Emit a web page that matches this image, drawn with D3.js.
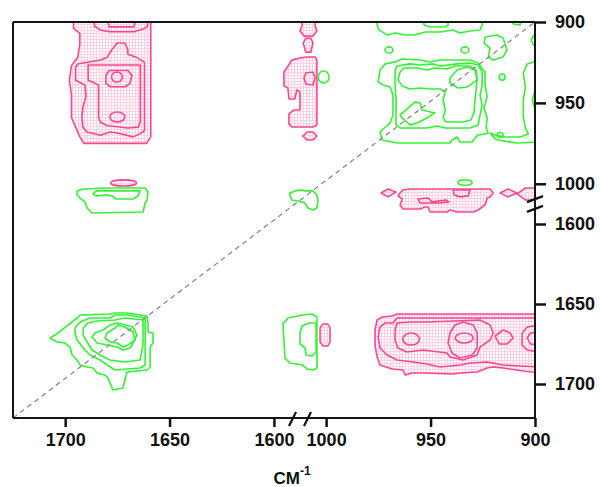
<!DOCTYPE html>
<html>
<head>
<meta charset="utf-8">
<script src="https://cdn.jsdelivr.net/npm/d3@7"></script>
<style>
    body { margin: 0; background: #fff; }
    text { font-family: "Liberation Sans", Arial, sans-serif; font-weight: bold; fill: #111; }
</style>
</head>
<body>
<svg id="chart" width="600" height="487"></svg>
<script>
/**
 * Synchronous 2D map, broken axes (1725-1587.5 | 1012.5-900 cm-1).
 * Every contour is a list of [x wavenumber, y wavenumber] points.
 */
var xTicks = [1700, 1650, 1600, 1000, 950, 900];
var yTicks = [900, 950, 1000, 1600, 1650, 1700];
var xDomain = [1725, 1587.5, 1012.5, 900];
var yDomain = [900, 1012.5, 1587.5, 1721.25];

// ---- pink (negative) contours ----
var pinkTL1 = [[1696,896],[1696,900],[1696,904],[1693,907],[1693,914],[1694,922],[1697,927],[1698,936],[1697,945],[1697,954],[1697,959],[1695,965],[1693,971],[1691,975],[1661,975],[1659,971],[1659,896]];
var pinkTL2 = [[1686,896],[1686,902.5],[1683,905],[1678.5,906],[1667,906],[1662,904],[1660.5,902.5],[1660.5,896]];
var pinkTL3 = [[1680,896],[1679,903],[1667,903],[1666,896]];
var pinkTL4 = [[1695,928],[1694,926],[1690,925],[1683,923.5],[1680,922],[1677.6,917],[1675,913],[1671.4,913],[1670,917],[1670,920],[1665.6,922],[1662,925],[1662,967],[1664,969],[1667.5,971],[1675,968.6],[1678.5,968],[1683,970],[1689.6,968],[1691.5,965],[1692,959],[1691.5,952.5],[1690,946],[1690.5,939],[1692,938],[1695,936]];
var pinkTL5 = [[1689,926.6],[1689,936],[1686,937.7],[1684,939],[1684,959],[1683,962],[1680,964],[1670,965.5],[1665,965],[1664,962],[1664,926.6]];
var pinkTL6 = [[1680.5,933],[1679,930],[1670,930],[1668,933],[1669,938],[1671.4,940],[1678.5,940],[1680.5,938]];
var pinkTM1 = [[1012,897.5],[1011.5,902],[1012.5,905.6],[1010.6,908.7],[1006.3,908.7],[1004.4,905.6],[1005.3,902],[1004.8,897.5]];
var pinkTM2 = [[1011,913],[1009.7,910],[1007.3,910],[1006.3,913],[1007.3,918.7],[1009.7,918.7]];
var pinkTM3 = [[1593.8,928.4],[1591.4,923.5],[1012.5,922.2],[1009.1,921.6],[1005.3,921.6],[1004.4,923.5],[1004.4,963.7],[1006.3,964.9],[1591.4,964.9],[1592.8,963],[1592.8,956.8],[1590.4,954.4],[1587.5,954.4],[1587.5,943.3],[1589,942],[1590,947.6],[1592.8,947.6],[1593.3,940.8],[1595.2,939.5],[1595.2,930.9]];
var pinkTM4 = [[1006.3,930.9],[1009.7,931.5],[1010.6,934.6],[1009.7,938.3],[1006.3,938.9],[1005.3,934.6]];
var pinkTM5 = [[1011.1,970.5],[1009.1,968],[1006.3,968],[1004.4,970.5],[1006.3,972.9],[1009.1,972.9]];
var pinkMR1 = [[964.6,1005.7],[963.2,1003.8],[959.8,1003.2],[921.5,1003.2],[920,1005.7],[921.5,1008.1],[922.9,1008.8],[923.9,1588.1],[927.2,1591.25],[929.6,1592.5],[937.3,1592.5],[940.7,1591.25],[942.1,1592.5],[950.2,1592.5],[951.2,1589.4],[952.6,1589.4],[955,1590.6],[963.2,1590.6],[964.6,1588.1],[963.6,1009.4],[965.6,1007.5]];
var pinkMR2 = [[956,1009.4],[951.2,1008.8],[949.3,1011.2],[942.6,1010],[941.2,1011.2],[945.4,1011.9],[951.2,1011.9],[955,1011.9]];
var pinkMR3 = [[939.2,1003.8],[938.7,1006.9],[935.9,1008.1],[932,1007.5],[931.1,1003.8]];
var pinkMR4 = [[973.7,1005.7],[970.3,1003.2],[966.5,1005.1],[970.3,1008.1]];
var pinkMR5 = [[916.7,1005.7],[912.9,1003.2],[908.6,1005.7],[912.9,1008.1]];
var pinkMR6 = [[908.6,1006.3],[904.6,1002.6],[897.5,1002.6],[897.5,1010],[904.6,1010]];
var pinkBM1 = [[1002.9,1665],[1001.5,1662.5],[999.1,1662.5],[998.1,1665],[998.1,1673.75],[999.1,1676.25],[1001.5,1676.25],[1002.9,1673.75]];
var pinkBR1 = [[975.6,1660],[973.2,1658.1],[968.4,1657.5],[966,1656.25],[897.5,1656.25],[897.5,1692.5],[901.3,1692.5],[905.6,1691.9],[908.6,1691.25],[915.3,1690],[920,1689.4],[922.9,1690],[927.7,1692.5],[935.9,1693.1],[939.2,1693.75],[953.6,1693.1],[958.8,1693.1],[962.2,1694.4],[963.2,1691.25],[968.4,1690.6],[974.2,1688.1],[975.6,1683.1],[976.6,1675.6],[976.6,1666.25]];
var pinkBR2 = [[974.2,1664.4],[971.8,1661.9],[968,1661.9],[966,1658.75],[897.5,1658.75],[897.5,1689.4],[907.1,1688.75],[915.3,1688.1],[922.9,1686.25],[931.1,1686.9],[935.9,1688.1],[945.4,1689.4],[951.7,1687.5],[958.4,1686.25],[966,1685],[970.8,1681.9],[974.2,1677.5],[975.1,1670.6]];
var pinkBR3 = [[966,1661.9],[959.8,1661.25],[951.7,1661.25],[939.2,1660.6],[926.3,1660],[921.5,1663.1],[920,1668.1],[921.5,1672.5],[926.3,1676.9],[927.7,1681.9],[934.4,1685],[940.7,1683.1],[942.1,1680.6],[953.6,1678.75],[961.3,1680],[965.6,1677.5],[967,1672.5],[967,1666.25]];
var pinkBR4 = [[940.7,1668.1],[938.3,1663.1],[934.4,1661.25],[929.6,1663.1],[927.7,1668.1],[927.7,1677.5],[930.1,1681.9],[935.9,1683.75],[939.7,1680.6],[941.6,1674.4]];
var pinkBR5 = [[919.1,1670],[915.3,1666.25],[911.9,1668.1],[910.5,1671.25],[913.4,1675],[917.2,1675]];
var pinkBR6 = [[897.5,1663.1],[903.7,1664.4],[906.2,1668.1],[906.2,1675.6],[903.7,1678.75],[897.5,1680]];
var pinkBR7 = [[897.5,1667.5],[902.2,1668.1],[903.7,1671.25],[902.2,1675],[897.5,1675.6]];
// small closed rings: [x, y, half width, half height]
var pinkSpots = [[1675.2,934,2.6,3.1],[1675,958.7,3.6,3.1],[1672,999.5,6.2,1.9],[933.9,1671.25,4.3,3.1],[959.3,1671.9,4,3.75]];

// ---- green (positive) contours ----
var greenTR1 = [[975.6,895.7],[975.6,901.9],[974.7,904.9],[970.8,908],[967,906.8],[962.2,908],[957.4,908],[952.6,906.2],[945.4,906.2],[939.2,904.9],[935.9,906.8],[931.1,905.6],[926.3,904.9],[925.3,901.9],[925.3,895.7]];
var greenTR2 = [[953.6,895.7],[953.1,901.9],[950.2,903.1],[943,903.1],[941.6,901.9],[941.6,895.7]];
var greenTR3 = [[910.9,895.7],[910.5,901.2],[907.1,901.9],[907.1,895.7]];
var greenTR4 = [[923.9,909.3],[924.4,913],[921.5,916.1],[922.4,921.6],[920,923.5],[915.3,921.6],[913.4,917.3],[915.3,909.9],[918.2,908]];
var greenTR5 = [[897.5,908],[900.8,908.6],[901.8,911.1],[900.8,914.2],[897.5,914.2]];
var greenTR6 = [[897.5,943.3],[900.3,943.9],[901.3,948.2],[900.3,952.5],[897.5,953.1]];
var greenTR7 = [[897.5,923.5],[903.7,925.9],[905.6,931.5],[904.6,940.2],[905.6,948.2],[905.6,958.7],[904.6,965.5],[903.2,969.2],[907.1,971.1],[914.3,971.1],[919.1,969.8],[921.5,968.6],[919.1,972.3],[915.3,973.5],[908.6,974.8],[897.5,974.2]];
var greenTR8 = [[974.2,929.7],[971.8,925.9],[967,924.7],[963.6,922.9],[955,923.5],[950.2,924.7],[945.4,923.5],[931.1,923.5],[927.2,925.3],[923.9,930.9],[923.9,938.9],[922.9,946.3],[924.4,953.1],[922.9,959.3],[923.4,965.5],[922.4,968.6],[923.9,969.2],[927.2,969.8],[928.7,971.7],[930.1,974.2],[935.9,974.2],[937.3,971.1],[939.7,972.9],[940.7,974.8],[966,974.8],[973.2,972.9],[974.2,968],[969.4,962.4],[968,957.5],[968,945.1],[969.4,940.2],[972.8,938.9],[975.1,937.1]];
var greenTR9 = [[967,929.7],[966,927.2],[959.8,925.9],[955,926.6],[948.8,925.9],[945.4,927.2],[937.3,925.9],[931.1,925.3],[927.2,926.6],[925.3,930.9],[925.3,938.9],[926.3,945.1],[925.3,951.3],[926.3,957.5],[927.2,963.6],[931.1,965.5],[943,965.5],[946.9,964.3],[951.7,965.5],[964.6,965.5],[966.5,963.6],[966.5,948.2],[967,938.9]];
var greenTR10 = [[964.6,930.9],[962.7,928.4],[956,928.4],[951.7,929.7],[947.9,928.4],[942.1,929],[938.3,927.2],[931.1,927.2],[928.2,929.7],[927.7,934.6],[928.2,942],[928.7,948.2],[929.2,955.6],[930.6,960.6],[934.4,961.8],[942.6,961.8],[944,959.3],[943,954.4],[944,948.2],[943,943.3],[945.4,941.4],[950.2,941.4],[955,940.8],[959.8,941.4],[963.6,939.5],[965.6,935.8]];
var greenTR11 = [[940.7,934.6],[937.3,929.7],[932.5,927.8],[928.7,929.7],[927.7,935.8],[932.5,940.2],[936.8,940.8],[940.7,937.7]];
var greenTR12 = [[964.6,957.5],[957.4,949.4],[955,950.1],[954.1,954.4],[947.9,956.2],[951.7,959.3],[956.5,962.4],[959.8,963.6],[963.6,959.3]];
var greenML1 = [[1694.3,1004.4],[1691.4,1003.2],[1679.9,1002.6],[1661.7,1002.6],[1660.3,1005.1],[1660.8,1010],[1661.7,1011.9],[1662.7,1592.5],[1687.1,1593.1],[1689.5,1590],[1690.5,1011.2],[1692.9,1008.8],[1694.3,1006.9]];
var greenML2 = [[1686.7,1006.3],[1685.2,1004.4],[1664.1,1004.4],[1665.1,1007.5],[1667.5,1009.4],[1675.6,1009.4],[1677.6,1007.5],[1679.5,1006.9],[1685.2,1007.5]];
var greenMM1 = [[1592.3,1005.7],[1589.9,1004.4],[1011.5,1003.8],[1010.1,1004.4],[1006.3,1004.4],[1004.4,1006.9],[1003.9,1010.6],[1004.4,1590],[1006.3,1591.25],[1008.7,1590],[1010.1,1011.9],[1588.5,1010.6],[1591.4,1010],[1592.3,1007.5]];
var greenBL1 = [[1707.3,1671.25],[1703.4,1668.1],[1694.3,1658.75],[1692.9,1656.9],[1678.5,1656.25],[1676.1,1655.6],[1670.4,1655.6],[1660.8,1657.5],[1660.3,1661.9],[1660.3,1667.5],[1657.9,1668.1],[1657.9,1674.4],[1659.3,1676.9],[1659.3,1689.4],[1660.8,1691.25],[1670.4,1692.5],[1671.4,1697.5],[1672.3,1702.5],[1677.1,1703.75],[1678.5,1699.4],[1679.5,1696.25],[1680.9,1694.4],[1684.7,1693.1],[1686.7,1690],[1689.5,1689.4],[1692.9,1688.1],[1694.3,1685],[1696.7,1681.9],[1697.7,1676.9],[1700.1,1674.4],[1703.9,1673.75]];
var greenBL2 = [[1695.3,1665],[1692.9,1661.25],[1688.1,1658.75],[1678.5,1658.75],[1676.1,1656.9],[1669.9,1656.9],[1661.7,1658.75],[1661.7,1688.1],[1664.1,1690],[1676.1,1691.25],[1679.9,1688.1],[1683.3,1685],[1688.1,1681.9],[1690.5,1678.75],[1694.3,1672.5],[1695.3,1668.1]];
var greenBL3 = [[1691.4,1665],[1689.1,1661.9],[1684.7,1660.6],[1676.1,1660],[1671.4,1658.75],[1662.7,1660],[1662.7,1675.6],[1664.1,1685],[1671.4,1686.25],[1678.5,1685],[1683.3,1681.9],[1687.1,1678.75],[1689.5,1673.75],[1691.4,1669.4]];
var greenBL4 = [[1687.1,1670.6],[1685.7,1668.1],[1681.9,1666.25],[1678.5,1663.1],[1674.7,1661.9],[1667.5,1664.4],[1665.6,1669.4],[1667.5,1674.4],[1668.9,1677.5],[1672.3,1678.75],[1675.2,1676.9],[1679.9,1675.6],[1684.7,1674.4]];
var greenBL5 = [[1680.9,1671.25],[1679.9,1668.1],[1676.1,1665],[1674.7,1663.1],[1671.4,1664.4],[1667.5,1667.5],[1666.5,1672.5],[1669.9,1675.6],[1672.3,1676.9],[1675.2,1674.4],[1678.5,1673.75]];
var greenBM1 = [[1594.7,1661.25],[1593.3,1658.75],[1011.1,1656.9],[1006.7,1656.25],[1004.4,1658.1],[1004.4,1664.4],[1004.4,1677.5],[1004.4,1690],[1006.3,1691.25],[1009.1,1690.6],[1011.5,1688.1],[1592.3,1686.9],[1594.7,1683.75],[1595.7,1661.9]];
var greenBM2 = [[1012.5,1667.5],[1011.5,1663.75],[1008.2,1661.9],[1004.8,1661.9],[1004.8,1680],[1006.7,1682.5],[1009.6,1681.9],[1010.1,1677.5],[1012.5,1675]];
var greenSpots = [[1001.2,934,2.6,3.7],[969.9,917.3,1.9,1.9],[933.5,917.3,1.9,1.9],[915.7,934,1.4,1.9],[916.7,969.8,1.4,1.5],[933.5,999.2,3.4,1.7]];

var pinkContours = [pinkTL1, pinkTL2, pinkTL3, pinkTL4, pinkTL5, pinkTL6, pinkTM1, pinkTM2, pinkTM3, pinkTM4, pinkTM5,
    pinkMR1, pinkMR2, pinkMR3, pinkMR4, pinkMR5, pinkMR6, pinkBM1, pinkBR1, pinkBR2, pinkBR3, pinkBR4, pinkBR5, pinkBR6, pinkBR7];
var greenContours = [greenTR1, greenTR2, greenTR3, greenTR4, greenTR5, greenTR6, greenTR7, greenTR8, greenTR9, greenTR10, greenTR11, greenTR12,
    greenML1, greenML2, greenMM1, greenBL1, greenBL2, greenBL3, greenBL4, greenBL5, greenBM1, greenBM2];

var pinkColor = "#ff4590";
var greenColor = "#33f233";

var svg = d3.select("#chart");
// (window.top is read-only, hence the prefixed names)
var plotLeft = 13, plotRight = 535, plotTop = 22, plotBottom = 418;

// broken axes: the gap between the two parts collapses onto one pixel
var x = d3.scaleLinear().domain(xDomain).range([plotLeft, 300, 300, plotRight]);
var y = d3.scaleLinear().domain(yDomain).range([plotTop, 204, 204, plotBottom]);

var defs = svg.append("defs");
defs.append("clipPath").attr("id", "plotClip")
    .append("rect").attr("x", plotLeft).attr("y", plotTop)
    .attr("width", plotRight - plotLeft).attr("height", plotBottom - plotTop);
var pattern = defs.append("pattern").attr("id", "pinkDots")
    .attr("patternUnits", "userSpaceOnUse").attr("width", 3).attr("height", 3);
pattern.append("rect").attr("width", 3).attr("height", 3).attr("fill", "#fcd2e3");
pattern.append("rect").attr("x", 1).attr("y", 1).attr("width", 2).attr("height", 2).attr("fill", "#fff");

var line = d3.line()
    .x(function (d) { return x(d[0]); })
    .y(function (d) { return y(d[1]); })
    .curve(d3.curveLinearClosed);

var plot = svg.append("g").attr("clip-path", "url(#plotClip)");

/**
 * Draw a set of small rings given as [x, y, half width, half height]
 */
function drawSpots(g, spots, stroke, fill) {
    g.append("g").selectAll("ellipse").data(spots).enter().append("ellipse")
        .attr("cx", function (d) { return x(d[0]); })
        .attr("cy", function (d) { return y(d[1]); })
        .attr("rx", function (d) { return Math.abs(x(d[0] + d[2]) - x(d[0])); })
        .attr("ry", function (d) { return Math.abs(y(d[1] + d[3]) - y(d[1])); })
        .attr("fill", fill)
        .attr("stroke", stroke)
        .attr("stroke-width", 1.6);
}

// dotted fill of the negative areas first, outlines after
plot.append("g").selectAll("path").data(pinkContours).enter().append("path")
    .attr("d", line).attr("fill", "url(#pinkDots)").attr("stroke", "none");

var outlines = plot.append("g").attr("fill", "none").attr("stroke-width", 1.6).attr("stroke-linejoin", "round");
outlines.selectAll(".pink").data(pinkContours).enter().append("path")
    .attr("class", "pink").attr("d", line).attr("stroke", pinkColor);
outlines.selectAll(".green").data(greenContours).enter().append("path")
    .attr("class", "green").attr("d", line).attr("stroke", greenColor);
drawSpots(plot, pinkSpots, pinkColor, "url(#pinkDots)");
drawSpots(plot, greenSpots, greenColor, "none");

// diagonal
plot.append("line")
    .attr("x1", x(xDomain[0])).attr("y1", y(yDomain[3]))
    .attr("x2", x(xDomain[3])).attr("y2", y(yDomain[0]))
    .attr("stroke", "#8a8a8a").attr("stroke-width", 1.3).attr("stroke-dasharray", "5,4");

// frame
var frame = svg.append("g").attr("stroke", "#151515").attr("stroke-width", 2).attr("fill", "none");
frame.append("line").attr("x1", plotLeft).attr("y1", plotTop).attr("x2", plotRight).attr("y2", plotTop);
frame.append("line").attr("x1", plotLeft).attr("y1", plotTop).attr("x2", plotLeft).attr("y2", plotBottom);
frame.append("line").attr("x1", plotLeft).attr("y1", plotBottom).attr("x2", plotRight).attr("y2", plotBottom);
frame.append("line").attr("x1", plotRight).attr("y1", plotTop).attr("x2", plotRight).attr("y2", plotBottom);

// axes
var xAxis = svg.append("g").attr("transform", "translate(0," + plotBottom + ")")
    .call(d3.axisBottom(x).tickValues(xTicks).tickFormat(d3.format("d")).tickSize(9).tickSizeOuter(0).tickPadding(6));
var yAxis = svg.append("g").attr("transform", "translate(" + plotRight + ",0)")
    .call(d3.axisRight(y).tickValues(yTicks).tickFormat(d3.format("d")).tickSize(11).tickSizeOuter(0).tickPadding(9));
[xAxis, yAxis].forEach(function (a) {
    a.select(".domain").remove();
    a.selectAll(".tick line").attr("stroke", "#111").attr("stroke-width", 2.5);
    a.selectAll(".tick text").attr("font-size", 18).attr("font-family", "Liberation Sans, Arial, sans-serif")
        .attr("font-weight", "bold").attr("fill", "#111");
});

// break marks on both axes
var xb = x(1587.5), yb = y(1012.5);
var marks = svg.append("g").attr("stroke", "#111").attr("stroke-width", 2.2);
[-7.5, 7.5].forEach(function (o) {
    marks.append("line").attr("x1", xb + o - 3.5).attr("y1", plotBottom + 8).attr("x2", xb + o + 3.5).attr("y2", plotBottom - 6);
    marks.append("line").attr("x1", plotRight - 8).attr("y1", yb + o * 0.65 + 3).attr("x2", plotRight + 8).attr("y2", yb + o * 0.65 - 3);
});

// axis title
var title = svg.append("text").attr("x", 292).attr("y", 484).attr("text-anchor", "middle").attr("font-size", 17);
title.append("tspan").text("CM");
title.append("tspan").attr("font-size", 12).attr("dy", -9).text("-1");
</script>
</body>
</html>
